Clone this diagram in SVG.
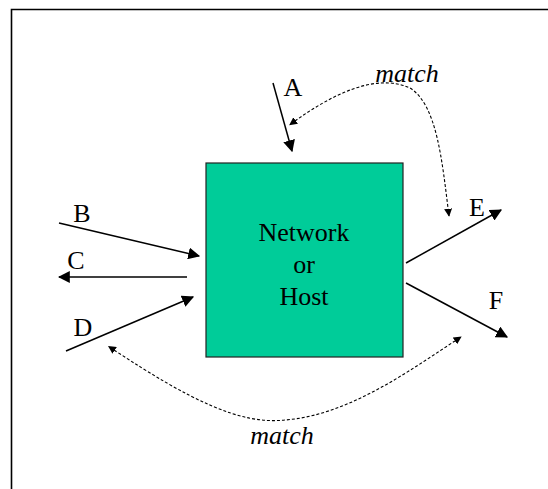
<svg xmlns="http://www.w3.org/2000/svg" width="548" height="489" viewBox="0 0 548 489">
<style>
.lbl{font-family:"Liberation Serif","DejaVu Serif",serif;font-size:26px;fill:#000}
.m{font-style:italic}
.sol{stroke:#000;stroke-width:1.5;fill:none}
.dash{stroke:#000;stroke-width:1.1;fill:none;stroke-dasharray:3 2}
</style>
<defs>
<marker id="ah" viewBox="0 0 10 10" refX="9" refY="5" markerWidth="8" markerHeight="8" markerUnits="userSpaceOnUse" orient="auto"><path d="M0,0 L10,5 L0,10 z" fill="#000"/></marker>
<marker id="ahL" viewBox="0 0 10 10" refX="9" refY="5" markerWidth="12" markerHeight="12" markerUnits="userSpaceOnUse" orient="auto"><path d="M0,0 L10,5 L0,10 z" fill="#000"/></marker>
<marker id="ahS" viewBox="0 0 10 10" refX="1" refY="5" markerWidth="8" markerHeight="8" markerUnits="userSpaceOnUse" orient="auto-start-reverse"><path d="M0,0 L10,5 L0,10 z" fill="#000"/></marker>
</defs>
<rect x="0" y="0" width="548" height="489" fill="#fff"/>
<path d="M11.5 489 V9.5 H548" stroke="#000" stroke-width="1.6" fill="none"/>
<g id="node-box">
<rect x="206" y="163" width="197" height="194" fill="#00CC99" stroke="#222" stroke-width="1.2"/>
<text class="lbl" x="304" y="241" text-anchor="middle">Network</text>
<text class="lbl" x="304" y="273" text-anchor="middle">or</text>
<text class="lbl" x="304" y="305" text-anchor="middle">Host</text>
</g>
<g id="connectors">
<line class="sol" x1="273" y1="83" x2="292" y2="151" marker-end="url(#ahL)"/>
<line class="sol" x1="59" y1="223" x2="199" y2="256" marker-end="url(#ahL)"/>
<line class="sol" x1="187" y1="277" x2="59" y2="277" marker-end="url(#ahL)"/>
<line class="sol" x1="66" y1="351" x2="193" y2="297" marker-end="url(#ahL)"/>
<line class="sol" x1="406" y1="263" x2="501" y2="210" marker-end="url(#ahL)"/>
<line class="sol" x1="406" y1="283" x2="507" y2="337" marker-end="url(#ahL)"/>
<path class="dash" d="M295 121 C330 96, 375 72, 410 88 C437 105, 442 160, 449 216" marker-start="url(#ahS)" marker-end="url(#ah)"/>
<path class="dash" d="M114 350 C190 400, 240 425, 285 420 C350 415, 410 370, 461 337" marker-start="url(#ahS)" marker-end="url(#ah)"/>
</g>
<g id="labels">
<text class="lbl" x="293" y="96" text-anchor="middle">A</text>
<text class="lbl" x="82" y="222" text-anchor="middle">B</text>
<text class="lbl" x="76" y="269" text-anchor="middle">C</text>
<text class="lbl" x="83" y="336" text-anchor="middle">D</text>
<text class="lbl" x="477" y="216" text-anchor="middle">E</text>
<text class="lbl" x="496" y="309" text-anchor="middle">F</text>
<text class="lbl m" x="407" y="82" text-anchor="middle">match</text>
<text class="lbl m" x="282" y="444" text-anchor="middle">match</text>
</g>
</svg>
